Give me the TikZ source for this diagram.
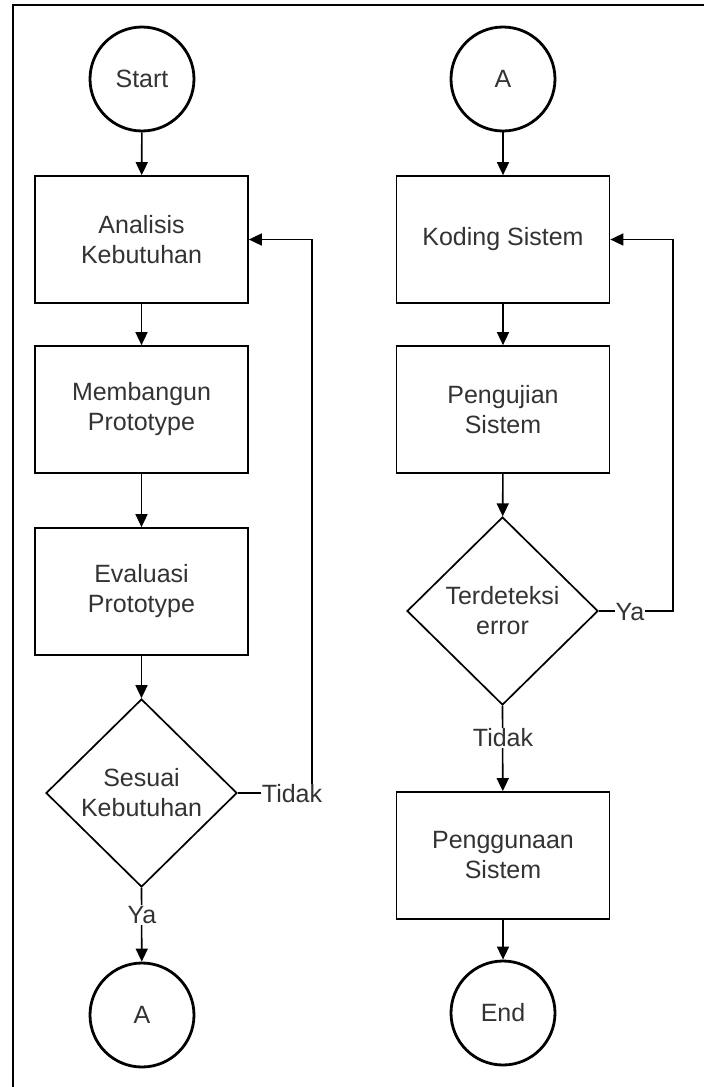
\documentclass[tikz,border=0pt]{standalone}
\usepackage{fontspec}
\setmainfont{Liberation Sans}
\usetikzlibrary{shapes.geometric,arrows.meta}
\definecolor{ink}{HTML}{333333}
\begin{document}
\begin{tikzpicture}[x=1pt,y=-1pt,
  every node/.style={font=\fontsize{25}{30}\selectfont, text=ink, align=center},
  procbox/.style={draw=black, line width=1.7pt, rectangle, minimum width=213pt, minimum height=127pt, inner sep=0pt},
  terminal/.style={draw=black, line width=2.8pt, circle, minimum size=104pt, inner sep=0pt},
  decision/.style={draw=black, line width=1.7pt, diamond, minimum width=191pt, minimum height=188pt, inner sep=0pt, aspect=1},
  flow/.style={draw=black, line width=1.6pt, -{Triangle[length=13pt,width=12pt]}},
  edgelabel/.style={fill=white, inner sep=1pt}
]
\useasboundingbox (0,0) rectangle (704,1087);
\fill[white] (0,0) rectangle (704,1087);

% frame lines
\draw[line width=2.2pt] (12.7,1087) -- (12.7,4.7) -- (704,4.7);

% left column
\node[terminal] (start) at (142,79) {Start};
\node[procbox] (an) at (141.5,239.5) {Analisis\\Kebutuhan};
\node[procbox] (mp) at (141.5,409.5) {Membangun\\Prototype};
\node[procbox] (ep) at (141.5,591.5) {Evaluasi\\Prototype};
\node[decision] (dec1) at (141.5,793) {Sesuai\\Kebutuhan};
\node[terminal] (a1) at (142,1015) {A};

% right column
\node[terminal] (a2) at (503,79) {A};
\node[procbox] (ks) at (503,239.5) {Koding Sistem};
\node[procbox] (ps) at (503,409.5) {Pengujian\\Sistem};
\node[decision] (dec2) at (502.5,611) {Terdeteksi\\error};
\node[procbox] (pg) at (503,855.5) {Penggunaan\\Sistem};
\node[terminal] (fin) at (503,1013) {End};

% left flow
\draw[flow] (start) -- (an);
\draw[flow] (an) -- (mp);
\draw[flow] (mp) -- (ep);
\draw[flow] (ep) -- (dec1);
\draw[flow] (dec1.south) -- (a1);
\node[edgelabel] (ya1) at (142,915) {Ya};
\coordinate (c1) at (312,793);
\draw[flow] (dec1.east) -- (c1) -- (an.east -| c1) -- (an.east);
\node[edgelabel] (tidak1) at (292,794) {Tidak};

% right flow
\draw[flow] (a2) -- (ks);
\draw[flow] (ks) -- (ps);
\draw[flow] (ps) -- (dec2);
\draw[flow] (dec2.south) -- (pg);
\node[edgelabel] (tidak2) at (503,738) {Tidak};
\coordinate (c2) at (673,611);
\draw[flow] (dec2.east) -- (c2) -- (ks.east -| c2) -- (ks.east);
\node[edgelabel] (ya2) at (630,612) {Ya};
\draw[flow] (pg) -- (fin);
\end{tikzpicture}
\end{document}
